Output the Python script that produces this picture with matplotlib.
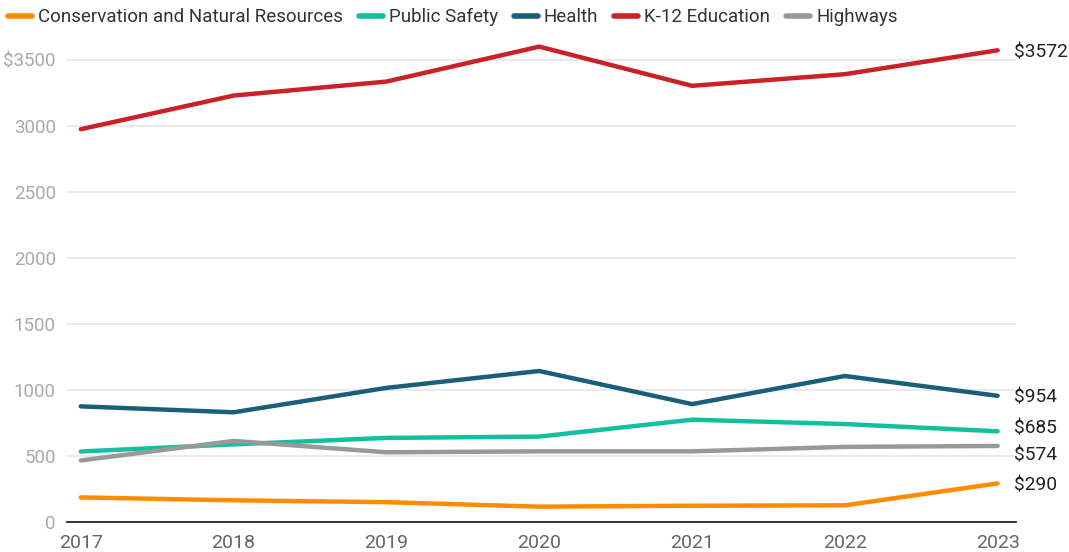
import numpy as np
from matplotlib import pyplot as plt

plt.rcParams['font.family'] = ['Roboto', 'DejaVu Sans']

#==============================================================================
# Datos
#==============================================================================
years = [2017, 2018, 2019, 2020, 2021, 2022, 2023]
conservation = [184, 162, 148, 114, 121, 124, 290]
public_safety = [532, 586, 635, 645, 773, 740, 685]
health = [874, 829, 1014, 1142, 891, 1104, 954]
k12 = [2974, 3229, 3335, 3600, 3303, 3391, 3572]
highways = [464, 612, 526, 533, 533, 567, 574]

names = ['Conservation and Natural Resources', 'Public Safety', 'Health',
         'K-12 Education', 'Highways']
series = [conservation, public_safety, health, k12, highways]
colors = ['#ff8b00', '#12bf9f', '#1a5f7a', '#cb2027', '#999999']
# desplazamiento vertical (px) de la etiqueta final
label_dy = [2, -3, 2, 2, 10]

yticks = [0, 500, 1000, 1500, 2000, 2500, 3000, 3500]
ytick_labels = ['0', '500', '1000', '1500', '2000', '2500', '3000', '$3500']

#==============================================================================
# Grafico
#==============================================================================
fig = plt.figure(figsize=(10.69, 5.52), dpi=100)
ax = fig.add_axes([0.0627, 0.0549, 0.8877, 0.8726])

lines = []
for vals, name, c in zip(series, names, colors):
    l, = ax.plot(years, vals, color=c, lw=3.2, solid_capstyle='round',
                 solid_joinstyle='round', label=name, zorder=3)
    lines.append(l)

for vals, c, dy in zip(series, colors, label_dy):
    ax.annotate('$%d' % vals[-1], xy=(years[-1], vals[-1]),
                xytext=(11.5, -dy * 0.72), textcoords='offset points',
                va='center', ha='left', fontsize=13.8, color='#222222',
                annotation_clip=False)

ax.set_xlim(2016.91, 2023.12)
ax.set_ylim(0, 3650)
ax.set_xticks(years)
ax.set_xticklabels([str(y) for y in years])
ax.set_yticks(yticks)
ax.set_yticklabels(ytick_labels)
ax.grid(axis='y', color='#e6e6e6', lw=1.2, zorder=0)
ax.tick_params(axis='y', length=0, labelsize=13.5, labelcolor='#aaaaaa', pad=8)
ax.tick_params(axis='x', length=0, labelsize=14, labelcolor='#666666', pad=9)
for s in ['top', 'right', 'left']:
    ax.spines[s].set_visible(False)
ax.spines['bottom'].set_color('#222222')
ax.spines['bottom'].set_linewidth(1.3)
ax.spines['bottom'].set_zorder(4)

leg = fig.legend(handles=lines, loc='upper left', bbox_to_anchor=(-0.0084, 1.016),
                 ncol=5, frameon=False, fontsize=13.5, handlelength=1.28,
                 handletextpad=0.32, columnspacing=0.85, labelcolor='#333333')
for h in leg.legend_handles:
    h.set_linewidth(4)

plt.savefig('out.png', dpi=100)
plt.close()
